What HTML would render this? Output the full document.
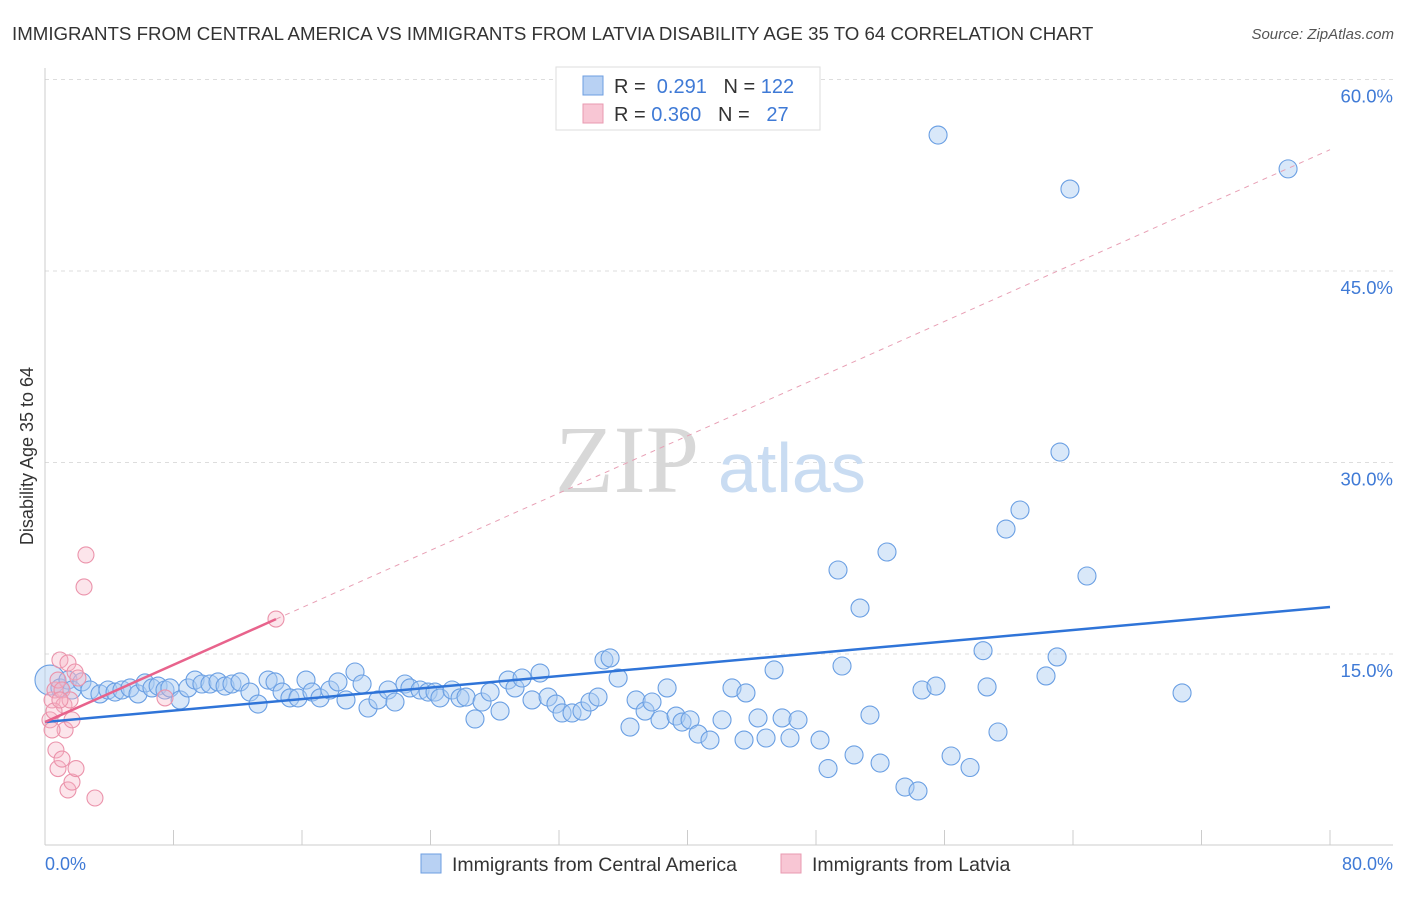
<!DOCTYPE html>
<html><head><meta charset="utf-8"><style>
body{margin:0;background:#fff;font-family:"Liberation Sans",sans-serif;}
svg text{font-family:"Liberation Sans",sans-serif;}
</style></head><body>
<svg width="1406" height="892" viewBox="0 0 1406 892">
<text x="12" y="40" font-size="18.7" fill="#333">IMMIGRANTS FROM CENTRAL AMERICA VS IMMIGRANTS FROM LATVIA DISABILITY AGE 35 TO 64 CORRELATION CHART</text>
<text x="1394" y="39" font-size="15" fill="#555" font-style="italic" text-anchor="end">Source: ZipAtlas.com</text>
<g id="grid"></g>
<g>
<text x="555" y="492" font-size="96" fill="#d8d8d8" font-family="Liberation Serif" style="font-family:'Liberation Serif',serif">ZIP</text>
<text x="718" y="492" font-size="70" fill="#c9dcf2">atlas</text>
</g>
<g id="marks"></g>
<text transform="translate(33,456) rotate(-90)" font-size="18" fill="#333" text-anchor="middle">Disability Age 35 to 64</text>
<text x="45" y="870" font-size="18" fill="#3f7ad6">0.0%</text>
<text x="1393" y="870" font-size="18" fill="#3f7ad6" text-anchor="end">80.0%</text>
<g>
<rect x="556" y="67" width="264" height="63" fill="#fff" stroke="#ddd"/>
<rect x="583" y="76" width="20" height="19" fill="#b8d1f3" stroke="#6d9ee0"/>
<rect x="583" y="104" width="20" height="19" fill="#f8c6d4" stroke="#e89ab0"/>
<text x="614" y="93" font-size="20" fill="#333">R = <tspan fill="#3f7ad6">&#160;0.291</tspan>&#160;&#160; N = <tspan fill="#3f7ad6">122</tspan></text>
<text x="614" y="121" font-size="20" fill="#333">R = <tspan fill="#3f7ad6">0.360</tspan>&#160;&#160; N = <tspan fill="#3f7ad6">&#160;&#160;27</tspan></text>
</g>
<g>
<rect x="421" y="854" width="20" height="19" fill="#b8d1f3" stroke="#6d9ee0"/>
<text x="452" y="871" font-size="19.5" fill="#333">Immigrants from Central America</text>
<rect x="781" y="854" width="20" height="19" fill="#f8c6d4" stroke="#e89ab0"/>
<text x="812" y="871" font-size="19.5" fill="#333">Immigrants from Latvia</text>
</g>
</svg>
<script>
const yTicks=[15,30,45,60];
const yTickLabels=["15.0%","30.0%","45.0%","60.0%"];
const xTicks=[0,8,16,24,32,40,48,56,64,72,80];
const blueX=[0.31,0.93,1.43,1.68,2.30,2.80,3.42,3.92,4.36,4.79,5.29,5.79,6.23,6.66,7.04,7.47,7.78,8.41,8.90,9.34,9.77,10.27,10.77,11.21,11.64,12.14,12.76,13.26,13.89,14.32,14.76,15.25,15.75,16.25,16.62,17.12,17.74,18.24,18.74,19.30,19.74,20.11,20.73,21.36,21.79,22.41,22.72,23.35,23.85,24.28,24.59,25.34,25.84,26.21,26.77,27.21,27.71,28.33,28.83,29.26,29.70,30.32,30.82,31.32,31.81,32.19,32.81,33.43,33.93,34.43,34.80,35.18,35.68,36.42,36.80,37.36,37.79,38.29,38.73,39.29,39.66,40.16,40.66,41.40,42.15,42.77,43.52,43.64,44.39,44.89,45.39,45.89,46.38,46.88,48.25,48.75,49.37,49.62,50.37,50.74,51.36,51.99,52.42,53.54,54.35,54.60,55.47,55.60,56.41,57.59,58.40,58.65,59.33,59.83,60.70,62.32,63.01,63.19,63.81,64.87,70.79,77.39];
const blueY=[12.96,12.34,12.96,12.18,12.81,12.18,11.87,12.18,12.02,12.18,12.34,11.87,12.73,12.34,12.49,12.18,12.34,11.40,12.34,12.96,12.65,12.65,12.81,12.49,12.65,12.81,12.02,11.08,12.96,12.81,12.02,11.56,11.56,12.96,12.02,11.56,12.18,12.81,11.40,13.59,12.65,10.77,11.40,12.18,11.24,12.65,12.34,12.18,12.02,12.02,11.56,12.18,11.56,11.63,9.91,11.24,12.02,10.53,12.96,12.34,13.12,11.40,13.51,11.63,11.08,10.38,10.38,10.53,11.24,11.63,14.53,14.69,13.12,9.28,11.40,10.53,11.24,9.84,12.34,10.14,9.67,9.84,8.73,8.26,9.84,12.34,8.26,11.95,9.99,8.42,13.75,9.99,8.42,9.84,8.26,6.03,21.58,14.06,7.09,18.60,10.22,6.46,22.99,4.58,4.27,12.18,12.49,55.65,7.01,6.11,15.26,12.42,8.89,24.79,26.28,13.28,14.77,30.82,51.42,21.11,11.95,53.0];
const pinkX=[0.31,0.44,0.62,0.81,0.93,1.06,1.18,1.25,1.43,1.56,1.68,1.87,2.05,0.68,0.81,1.06,1.43,1.68,1.93,2.55,2.43,3.11,7.47,14.38,0.44,0.56,0.93];
const pinkY=[9.84,11.40,12.18,12.96,14.53,12.18,11.0,9.05,14.3,11.4,9.84,13.59,13.12,7.48,6.03,6.77,4.35,4.97,6.03,22.76,20.25,3.72,11.56,17.74,9.05,10.53,11.4];
const blueTrend=[9.67,18.68];
const pinkTrend=[9.67,54.5];
const pinkSolidEnd=14.38;

const NS="http://www.w3.org/2000/svg";
const X=v=>45+v/80*1285;
const Y=v=>845.5-v/15*191.5;
function mk(tag,attrs,parent){const e=document.createElementNS(NS,tag);for(const k in attrs)e.setAttribute(k,attrs[k]);parent.appendChild(e);return e;}
const grid=document.getElementById('grid');
const marks=document.getElementById('marks');
yTicks.forEach((t,i)=>{
 const l=mk('line',{x1:45,x2:1393,y1:Y(t),y2:Y(t),stroke:'#ddd','stroke-dasharray':'4,4'},grid);
 
 
 const tx=mk('text',{x:1393,y:Y(t)+23,'font-size':18.5,fill:'#3f7ad6','text-anchor':'end'},grid);
 tx.textContent=yTickLabels[i];
 
 
});
const ax=mk('line',{x1:45,x2:1393,y1:845,y2:845,stroke:'#ccc'},grid);


const ay=mk('line',{x1:45,x2:45,y1:68,y2:845,stroke:'#ccc'},grid);


xTicks.forEach(t=>{
 const l=mk('line',{x1:X(t),x2:X(t),y1:830,y2:845,stroke:'#ccc'},grid);
 
 
});
blueX.forEach((v,i)=>{
 const c=mk('circle',{cx:X(v),cy:Y(blueY[i]),r:i===0?15:9,fill:'rgba(170,204,242,0.45)',stroke:'#6a9fe3','stroke-width':1.1},marks);
 
 
});
pinkX.forEach((v,i)=>{
 const c=mk('circle',{cx:X(v),cy:Y(pinkY[i]),r:8,fill:'rgba(247,180,198,0.35)',stroke:'#eb93ab','stroke-width':1.1},marks);
 
 
});
const pd=mk('line',{x1:X(pinkSolidEnd),y1:Y(pinkTrend[0]+(pinkTrend[1]-pinkTrend[0])*pinkSolidEnd/80),x2:X(80),y2:Y(pinkTrend[1]),stroke:'#e8a0b5','stroke-dasharray':'5,5','stroke-width':1},marks);


const bt=mk('line',{x1:X(0),y1:Y(blueTrend[0]),x2:X(80),y2:Y(blueTrend[1]),stroke:'#2f74d8','stroke-width':2.5},marks);


const pt=mk('line',{x1:X(0),y1:Y(pinkTrend[0]),x2:X(pinkSolidEnd),y2:Y(pinkTrend[0]+(pinkTrend[1]-pinkTrend[0])*pinkSolidEnd/80),stroke:'#e8638c','stroke-width':2.5},marks);


</script>
</body></html>
